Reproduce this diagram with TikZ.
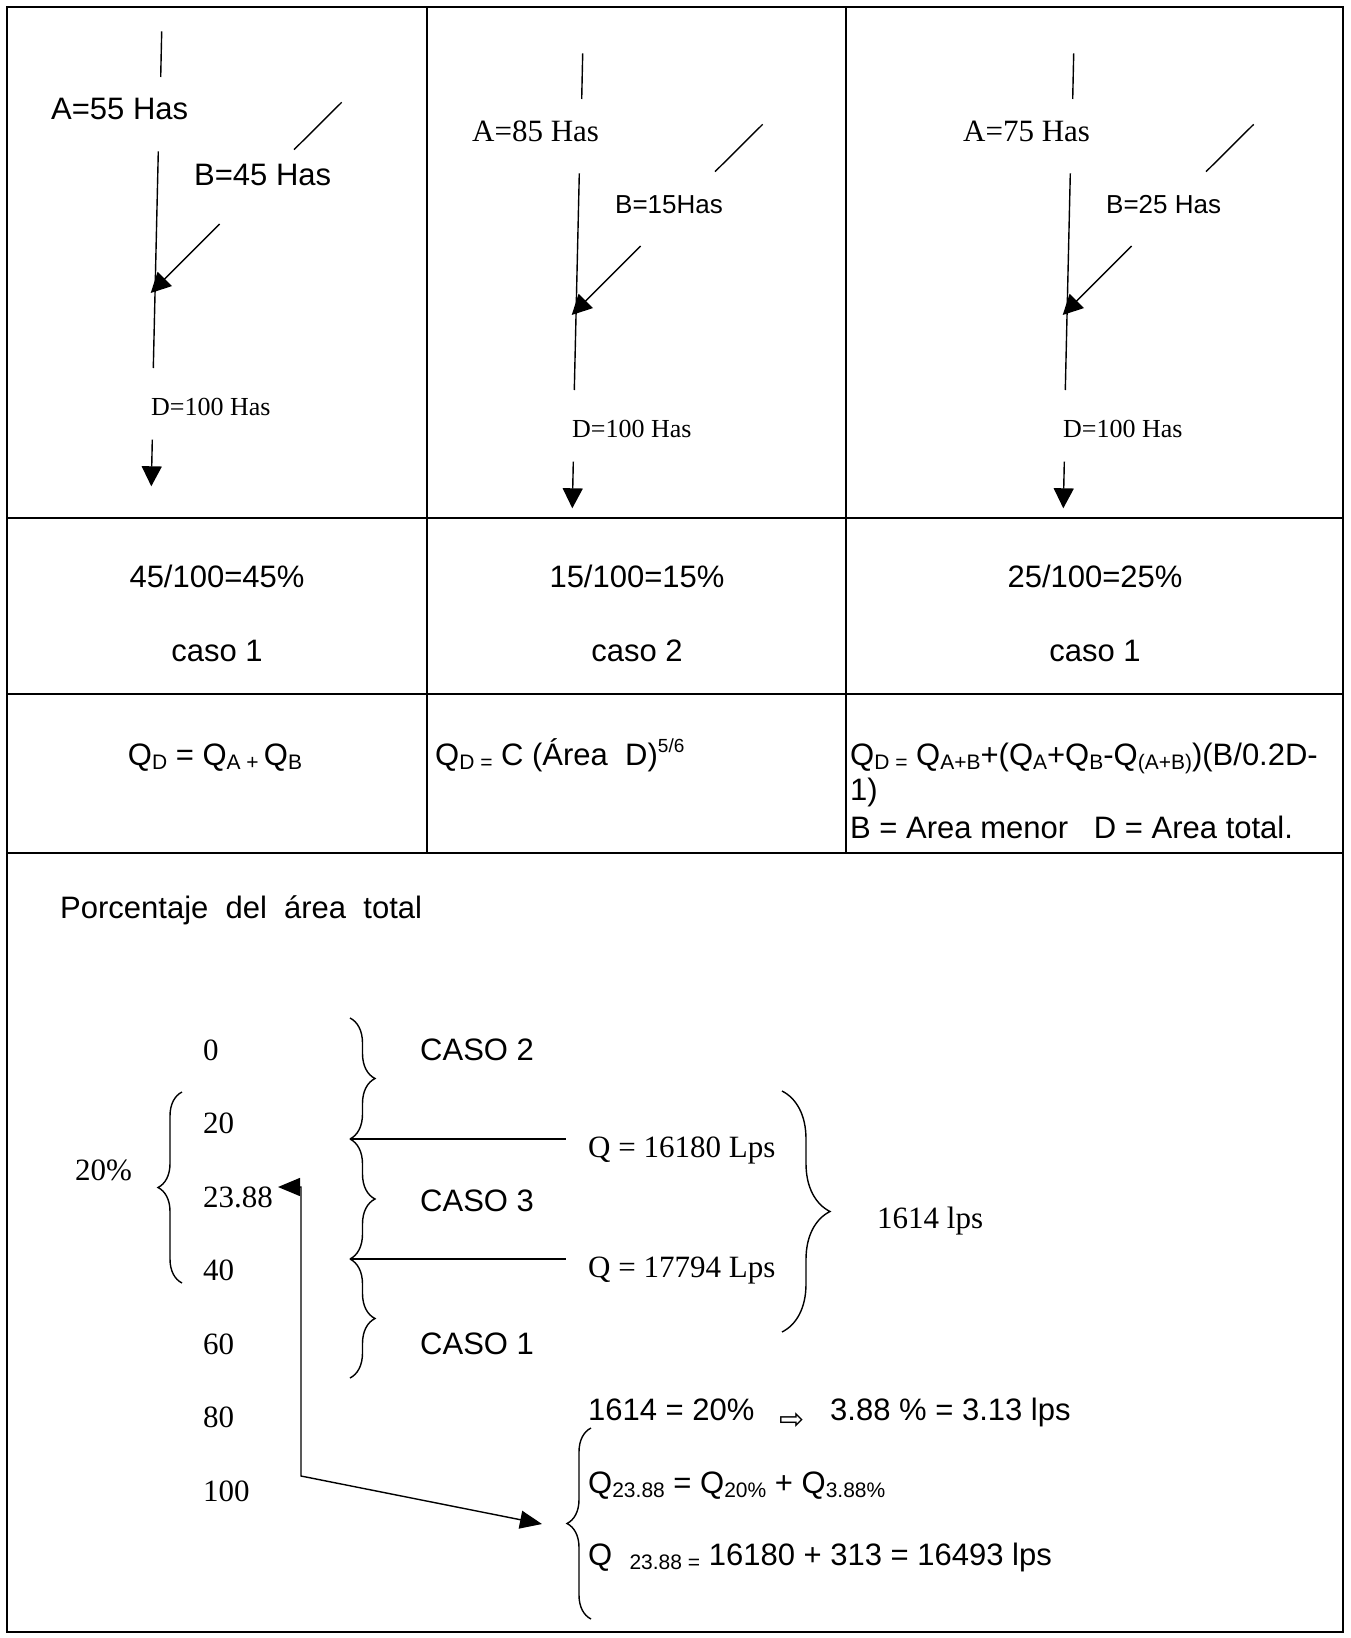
\documentclass[tikz,border=0pt]{standalone}
\usepackage{fontspec}
\setmainfont{Liberation Serif}
\newfontfamily\arialfam{Liberation Sans}
\newfontfamily\symfam{DejaVu Sans}
\usetikzlibrary{arrows.meta, decorations.pathreplacing}

\newcommand{\sansat}[1]{\arialfam\fontsize{#1}{#1}\selectfont}
\newcommand{\serifat}[1]{\rmfamily\fontsize{#1}{#1}\selectfont}
\newcommand{\lowsub}[1]{\raisebox{-4pt}{\fontsize{21}{21}\selectfont #1}}
\newcommand{\highsup}[1]{\raisebox{13pt}{\fontsize{19}{19}\selectfont #1}}

\tikzset{
  cellline/.style={line width=2pt},
  flow/.style={line width=1.4pt},
  flowtip/.style={flow, -{Triangle[length=20pt, width=20pt]}},
  lbl/.style={inner sep=0pt, anchor=base west},
  clbl/.style={inner sep=0pt, anchor=base},
  bracepath/.style={decorate, decoration={brace, amplitude=#1}, line width=1.4pt},
}

\begin{document}
\begin{tikzpicture}[x=1pt, y=-1pt]
    \useasboundingbox (0,0) rectangle (1350,1638);

    % table frame
    \draw[cellline] (7,7) rectangle (1343,1632);
    \foreach \x in {427,846}
        \draw[cellline] (\x,7) -- (\x,853);
    \foreach \y in {518,694,853}
        \draw[cellline] (7,\y) -- (1343,\y);

    % the three junction sketches
    \foreach \n/\dx/\dy/\alab/\blab/\bdy in {1/-421/-22/{\sansat{31}A=55 Has}/{\sansat{31}B=45 Has}/-6,
                                           2/0/0/{\serifat{31}A=85 Has}/{\sansat{26}B=15Has}/0,
                                           3/491/0/{\serifat{31}A=75 Has}/{\sansat{26}B=25 Has}/0} {
      \begin{scope}[shift={(\dx,\dy)}]
        \coordinate (srcA\n) at (582.7,53.3);
        \coordinate (endA\n) at (581.7,99);
        \coordinate (mainS\n) at (579.3,173.3);
        \coordinate (mainE\n) at (574.3,390);
        \coordinate (srcB\n) at (762.7,124.3);
        \coordinate (midB\n) at (715,171.7);
        \coordinate (armB\n) at (640.7,246);
        \coordinate (jct\n) at (571.7,315);
        \coordinate (outS\n) at (573.3,461.7);
        \coordinate (outE\n) at (572.3,508.3);

        \node[lbl] (labA\n) at (472,141) {\alab};
        \node[lbl] (labB\n) at (615,{213+\bdy}) {\blab};
        \node[lbl] (labD\n) at (572,437) {\serifat{26}D=100 Has};

        \draw[flow] (srcA\n) -- (endA\n);
        \draw[flow] (mainS\n) -- (mainE\n);
        \draw[flow] (srcB\n) -- (midB\n);
        \draw[flowtip] (armB\n) -- (jct\n);
        \draw[flowtip] (outS\n) -- (outE\n);
      \end{scope}
    }

    % ratios and cases
    \node[clbl] (frac1) at (217,587) {\sansat{31}45/100=45\%};
    \node[clbl] (case1) at (217,661) {\sansat{31}caso 1};
    \node[clbl] (frac2) at (637,587) {\sansat{31}15/100=15\%};
    \node[clbl] (case2) at (637,661) {\sansat{31}caso 2};
    \node[clbl] (frac3) at (1095,587) {\sansat{31}25/100=25\%};
    \node[clbl] (case3) at (1095,661) {\sansat{31}caso 1};

    % formulas
    \node[clbl] (qsum) at (215,765) {\sansat{31}Q\lowsub{D} = Q\lowsub{A +}\,Q\lowsub{B}};
    \node[lbl] (qarea) at (435,765) {\sansat{31}Q\lowsub{D =} C (Área\ \ D)\highsup{5/6}};
    \node[lbl] (qmix1) at (850,765) {\sansat{31}Q\lowsub{D =} Q\lowsub{A+B}+(Q\lowsub{A}+Q\lowsub{B}-Q\lowsub{(A+B)})(B/0.2D-};
    \node[lbl] (qmix2) at (850,800) {\sansat{31}1)};
    \node[lbl] (qmix3) at (850,838) {\sansat{31}B = Area menor\ \ \ D = Area total.};

    % percentage scale
    \node[lbl] (pct) at (60,918) {\sansat{31}Porcentaje\ \ del\ \ área\ \ total};
    \foreach \v/\y [count=\i] in {0/1060, 20/1133, 23.88/1207, 40/1280, 60/1354, 80/1427, 100/1501}
        \node[lbl] (num\i) at (203,\y) {\serifat{31}\v};
    \node[lbl] (pct20) at (75,1180) {\serifat{31}20\%};
    \draw[bracepath=24pt] (182,1283) -- (182,1092);

    \node[lbl] (caso2) at (420,1060) {\sansat{31}CASO 2};
    \node[lbl] (caso3) at (420,1211) {\sansat{31}CASO 3};
    \node[lbl] (caso1) at (420,1354) {\sansat{31}CASO 1};
    \draw[bracepath=25pt] (350,1018) -- (350,1139);
    \draw[bracepath=25pt] (350,1139) -- (350,1259);
    \draw[bracepath=25pt] (350,1259) -- (350,1378);

    \coordinate (jn1) at (350,1139);
    \coordinate (jn2) at (350,1259);
    \node[lbl] (qlow) at (588,1157) {\serifat{31}Q = 16180 Lps};
    \node[lbl] (qhigh) at (588,1277) {\serifat{31}Q = 17794 Lps};
    \draw[flow] (jn1) -- ([xshift=-22pt]qlow.west |- jn1);
    \draw[flow] (jn2) -- ([xshift=-22pt]qhigh.west |- jn2);

    \draw[bracepath=48pt] (782,1091) -- (782,1332);
    \node[lbl] (qdiff) at (877,1228) {\serifat{31}1614 lps};

    % interpolation
    \node[lbl] (ratio) at (588,1420) {\sansat{31}1614 = 20\%};
    \node[inner sep=0pt] (impl) at (792,1421) {\symfam\fontsize{30}{30}\selectfont ⇨};
    \node[lbl] (share) at (830,1420) {\sansat{31}3.88 \% = 3.13 lps};
    \node[lbl] (qsplit) at (588,1493) {\sansat{31}Q\lowsub{23.88} = Q\lowsub{20\%} + Q\lowsub{3.88\%}};
    \node[lbl] (qtotal) at (588,1565) {\sansat{31}Q\ \ \lowsub{23.88 =} 16180 + 313 = 16493 lps};
    \draw[bracepath=24pt] (591,1619) -- (591,1428);

    \coordinate (ptr) at (278,1187);
    \coordinate (bendT) at (301,1187);
    \coordinate (bendB) at (301,1476);
    \coordinate (eqtip) at (542,1524);
    \draw[flow, {Triangle[length=22pt, width=18pt]}-{Triangle[length=22pt, width=18pt]}] (ptr) -- (bendT) -- (bendB) -- (eqtip);

\end{tikzpicture}
\end{document}
